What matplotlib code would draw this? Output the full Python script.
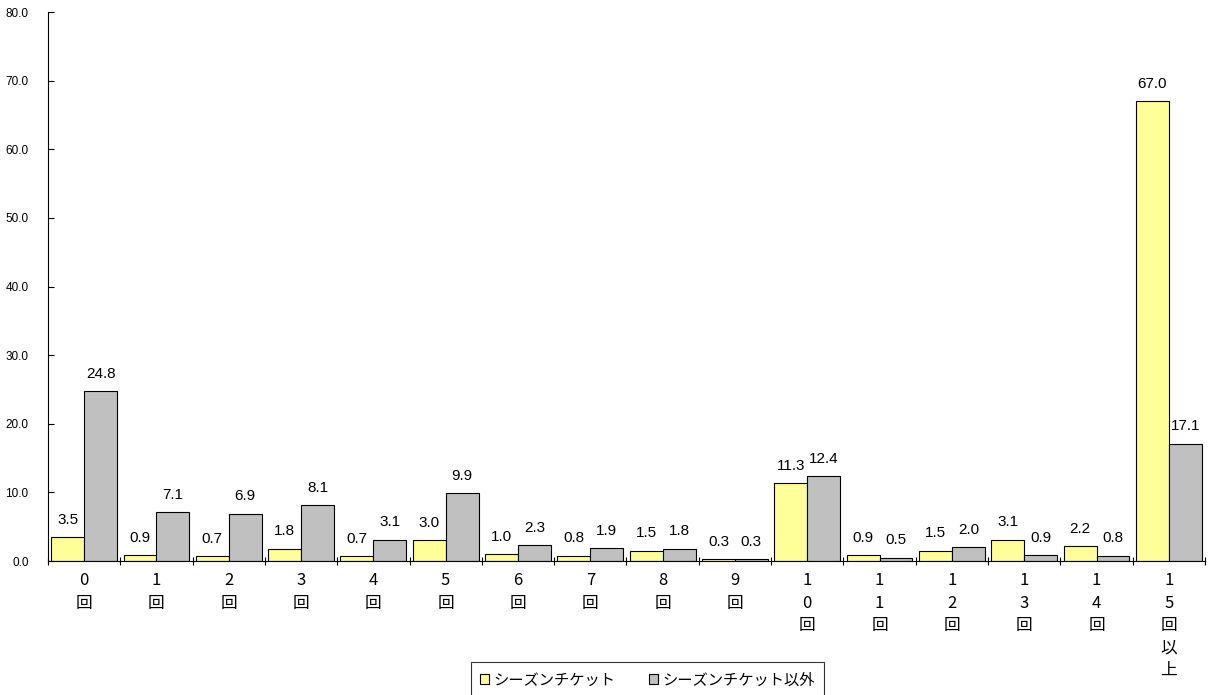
import matplotlib
matplotlib.use("Agg")
import matplotlib.pyplot as plt
import numpy as np

plt.rcParams['font.family'] = ['Noto Sans CJK JP', 'DejaVu Sans']

categories = ["0\n回", "1\n回", "2\n回", "3\n回", "4\n回", "5\n回", "6\n回", "7\n回",
              "8\n回", "9\n回", "1\n0\n回", "1\n1\n回", "1\n2\n回", "1\n3\n回", "1\n4\n回",
              "1\n5\n回\n以\n上"]
season = [3.5, 0.9, 0.7, 1.8, 0.7, 3.0, 1.0, 0.8, 1.5, 0.3, 11.3, 0.9, 1.5, 3.1, 2.2, 67.0]
other = [24.8, 7.1, 6.9, 8.1, 3.1, 9.9, 2.3, 1.9, 1.8, 0.3, 12.4, 0.5, 2.0, 0.9, 0.8, 17.1]
series_names = ["シーズンチケット", "シーズンチケット以外"]
yticks = [0, 10, 20, 30, 40, 50, 60, 70, 80]

fig = plt.figure(figsize=(12.08, 6.95), dpi=100)
ax = fig.add_axes([0.0397, 0.1928, 0.9578, 0.7899])

x = np.arange(len(categories))
w = 0.455
b1 = ax.bar(x - w/2, season, w, color="#FFFF99", edgecolor="black", linewidth=0.8, label=series_names[0])
b2 = ax.bar(x + w/2, other, w, color="#C0C0C0", edgecolor="black", linewidth=0.8, label=series_names[1])

for bars, vals in ((b1, season), (b2, other)):
    for r, v in zip(bars, vals):
        ax.text(r.get_x() + r.get_width()/2, v + 1.5, f"{v:.1f}", ha="center", va="bottom",
                fontsize=11, family=['Liberation Sans'])

ax.set_xlim(-0.5, len(categories) - 0.5)
ax.set_ylim(0, 80)
ax.set_yticks(yticks)
ax.set_yticklabels([f"{t:.1f}" for t in yticks], fontsize=8.5, family=['Liberation Sans'])
ax.tick_params(axis='y', direction='in', length=4, pad=14)

ax.set_xticks(np.arange(len(categories) + 1) - 0.5, minor=False)
ax.set_xticklabels([])
ax.tick_params(axis='x', which='major', direction='inout', length=6)
ax.set_xticks(x, minor=True)
ax.set_xticklabels(categories, minor=True, fontsize=12, linespacing=1.42, va='top')
ax.tick_params(axis='x', which='minor', length=0, pad=8)

for s in ['top', 'right']:
    ax.spines[s].set_visible(False)

leg = fig.legend(loc='lower center', bbox_to_anchor=(0.536, -0.015), ncol=2, fontsize=11,
                 frameon=True, fancybox=False, edgecolor="black", handlelength=0.6,
                 handleheight=0.6, columnspacing=2.2, handletextpad=0.3, borderpad=0.6)
leg.get_frame().set_linewidth(0.8)

fig.savefig("out.png", dpi=100)
